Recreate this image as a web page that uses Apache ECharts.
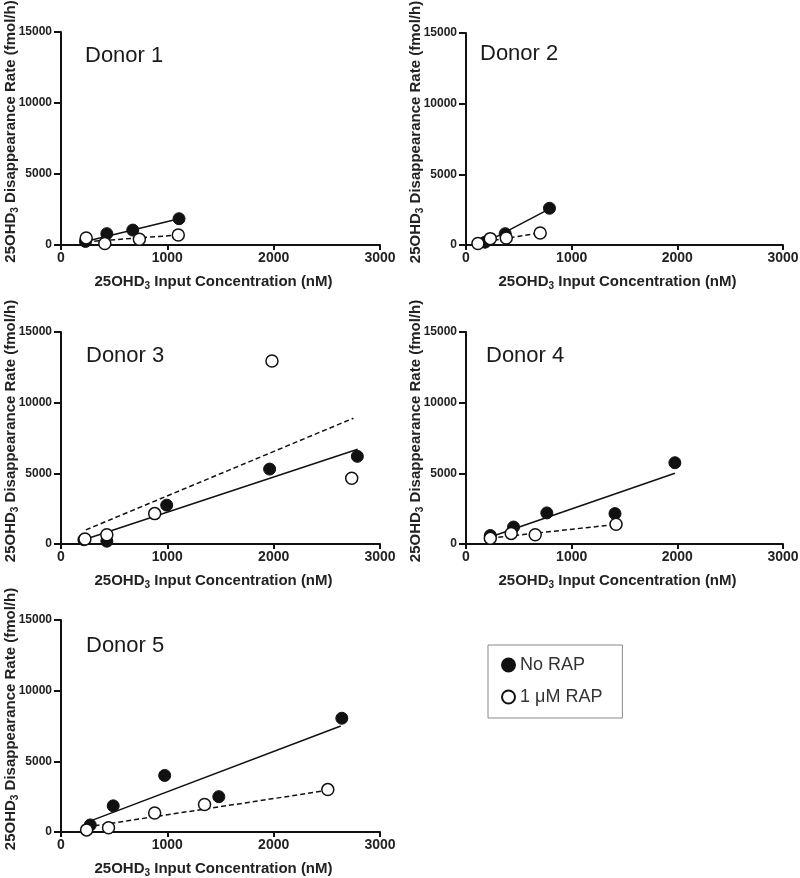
<!DOCTYPE html>
<html>
<head>
<meta charset="utf-8">
<script src="https://cdn.jsdelivr.net/npm/echarts@6/dist/echarts.min.js"></script>
<style>
  html, body { margin: 0; padding: 0; background: #fff; }
  #chart { width: 800px; height: 878px; }
</style>
</head>
<body>
<div id="chart"></div>
<script>
// ---- Data ----
const donorNames = ['Donor 1', 'Donor 2', 'Donor 3', 'Donor 4', 'Donor 5'];
const seriesNames = ['No RAP', '1 \u03bcM RAP'];
const xTicks = [0, 1000, 2000, 3000];
const yTicks = [0, 5000, 10000, 15000];

// Donor 1
const d1NoRapX = [230, 431, 675, 1110];
const d1NoRapY = [250, 800, 1050, 1850];
const d1RapX = [237, 412, 737, 1103];
const d1RapY = [500, 100, 400, 700];
const d1NoRapFitX = [220, 1110];
const d1NoRapFitY = [230, 1850];
const d1RapFitX = [237, 1103];
const d1RapFitY = [230, 700];

// Donor 2
const d2NoRapX = [180, 371, 790];
const d2NoRapY = [200, 800, 2600];
const d2RapX = [113, 230, 381, 702];
const d2RapY = [100, 450, 500, 850];
const d2NoRapFitX = [150, 790];
const d2NoRapFitY = [50, 2550];
const d2RapFitX = [113, 702];
const d2RapFitY = [150, 850];

// Donor 3
const d3NoRapX = [215, 431, 994, 1962, 2787];
const d3NoRapY = [300, 200, 2750, 5300, 6200];
const d3RapX = [225, 431, 881, 1984, 2734];
const d3RapY = [350, 650, 2150, 12950, 4650];
const d3NoRapFitX = [215, 2790];
const d3NoRapFitY = [300, 6700];
const d3RapFitX = [234, 2750];
const d3RapFitY = [1000, 8900];

// Donor 4
const d4NoRapX = [230, 450, 765, 1410, 1977];
const d4NoRapY = [600, 1200, 2200, 2150, 5750];
const d4RapX = [230, 428, 655, 1420];
const d4RapY = [400, 750, 650, 1400];
const d4NoRapFitX = [230, 1977];
const d4NoRapFitY = [500, 5000];
const d4RapFitX = [230, 1420];
const d4RapFitY = [420, 1380];

// Donor 5
const d5NoRapX = [275, 491, 975, 1484, 2641];
const d5NoRapY = [500, 1850, 4000, 2500, 8050];
const d5RapX = [241, 447, 881, 1350, 2509];
const d5RapY = [150, 300, 1350, 1950, 3000];
const d5NoRapFitX = [266, 2631];
const d5NoRapFitY = [750, 7500];
const d5RapFitX = [241, 2509];
const d5RapFitY = [350, 2950];

const donors = [
  [d1NoRapX, d1NoRapY, d1RapX, d1RapY, d1NoRapFitX, d1NoRapFitY, d1RapFitX, d1RapFitY],
  [d2NoRapX, d2NoRapY, d2RapX, d2RapY, d2NoRapFitX, d2NoRapFitY, d2RapFitX, d2RapFitY],
  [d3NoRapX, d3NoRapY, d3RapX, d3RapY, d3NoRapFitX, d3NoRapFitY, d3RapFitX, d3RapFitY],
  [d4NoRapX, d4NoRapY, d4RapX, d4RapY, d4NoRapFitX, d4NoRapFitY, d4RapFitX, d4RapFitY],
  [d5NoRapX, d5NoRapY, d5RapX, d5RapY, d5NoRapFitX, d5NoRapFitY, d5RapFitX, d5RapFitY]
];

// ---- Layout ----
const gridPos = [
  { left: 61, top: 32, width: 319, height: 213 },
  { left: 466, top: 33, width: 317, height: 212 },
  { left: 61, top: 332, width: 319, height: 212 },
  { left: 466, top: 332, width: 317, height: 212 },
  { left: 61, top: 620, width: 319, height: 212 }
];
const titlePos = [
  { left: 85, top: 45 }, { left: 480, top: 43 },
  { left: 86, top: 345 }, { left: 486, top: 345 },
  { left: 86, top: 635 }
];

const FONT = 'Liberation Sans, Arial, Helvetica, sans-serif';
const zip = (xs, ys) => xs.map((x, i) => [x, ys[i]]);

const nameStyle = (pad) => ({
  fontFamily: FONT, fontWeight: 'bold', fontSize: 15, color: '#222', padding: pad,
  rich: {
    b: { fontFamily: FONT, fontWeight: 'bold', fontSize: 15, color: '#222' },
    sub: { fontFamily: FONT, fontWeight: 'bold', fontSize: 10, color: '#222', padding: [8, 0, 0, 0] }
  }
});
const axisLineStyle = { show: true, onZero: false, lineStyle: { color: '#111', width: 2 } };
const tickLabel = (v) => String(v);

const grids = [], xAxes = [], yAxes = [], series = [], titles = [];
donors.forEach((d, i) => {
  grids.push(Object.assign({ containLabel: false, outerBoundsMode: 'none' }, gridPos[i]));
  xAxes.push({
    type: 'value', gridIndex: i, min: xTicks[0], max: xTicks[xTicks.length - 1], interval: 1000,
    axisLine: axisLineStyle,
    axisTick: { show: true, length: 5, lineStyle: { color: '#111', width: 2 } },
    splitLine: { show: false },
    nameLocation: 'middle',
    name: '{b|25OHD}{sub|3}{b| Input Concentration (nM)}', nameGap: 28,
    nameTextStyle: nameStyle([0, 14, 0, 0]),
    axisLabel: { fontFamily: FONT, fontWeight: 'bold', fontSize: 14, color: '#222', margin: 6, formatter: tickLabel }
  });
  yAxes.push({
    type: 'value', gridIndex: i, min: yTicks[0], max: yTicks[yTicks.length - 1], interval: 5000,
    axisLine: axisLineStyle,
    axisTick: { show: true, length: 7, lineStyle: { color: '#111', width: 2 } },
    splitLine: { show: false },
    nameLocation: 'middle',
    nameMoveOverlap: false,
    name: '{b|25OHD}{sub|3}{b| Disappearance Rate (fmol/h)}', nameGap: 41,
    nameTextStyle: nameStyle([0, 0, 0, 14]),
    axisLabel: { fontFamily: FONT, fontWeight: 'bold', fontSize: 12, color: '#222', margin: 9, formatter: tickLabel }
  });
  titles.push({
    text: donorNames[i], left: titlePos[i].left, top: titlePos[i].top, padding: 0,
    textStyle: { fontFamily: FONT, fontSize: 22, fontWeight: 'normal', color: '#1a1a1a' }
  });
  series.push({
    type: 'line', name: 'fit-norap-' + i, xAxisIndex: i, yAxisIndex: i,
    data: zip(d[4], d[5]), showSymbol: false, symbol: 'none', silent: true, z: 2,
    lineStyle: { color: '#111', width: 1.5, type: 'solid' }
  });
  series.push({
    type: 'line', name: 'fit-rap-' + i, xAxisIndex: i, yAxisIndex: i,
    data: zip(d[6], d[7]), showSymbol: false, symbol: 'none', silent: true, z: 2,
    lineStyle: { color: '#111', width: 1.5, type: [5, 3] }
  });
  series.push({
    type: 'scatter', name: seriesNames[0], xAxisIndex: i, yAxisIndex: i,
    data: zip(d[0], d[1]), symbol: 'circle', symbolSize: 12, z: 3,
    itemStyle: { color: '#111', borderColor: '#111', borderWidth: 1, opacity: 1 }
  });
  series.push({
    type: 'scatter', name: seriesNames[1], xAxisIndex: i, yAxisIndex: i,
    data: zip(d[2], d[3]), symbol: 'circle', symbolSize: 12, z: 4,
    itemStyle: { color: '#fff', borderColor: '#111', borderWidth: 1.5, opacity: 1 }
  });
});

const option = {
  animation: false,
  backgroundColor: '#fff',
  title: titles,
  grid: grids,
  xAxis: xAxes,
  yAxis: yAxes,
  series: series,
  legend: {
    data: seriesNames.map(n => ({ name: n, icon: 'circle' })),
    orient: 'vertical', left: 488, top: 645,
    itemWidth: 13, itemHeight: 13, itemGap: 14,
    selectedMode: false,
    borderColor: '#888', borderWidth: 1, borderRadius: 0,
    padding: [11, 20, 12, 13],
    textStyle: { fontFamily: FONT, fontSize: 18, color: '#333' }
  }
};

const chart = echarts.init(document.getElementById('chart'), null, { renderer: 'canvas' });
chart.setOption(option);
</script>
</body>
</html>
